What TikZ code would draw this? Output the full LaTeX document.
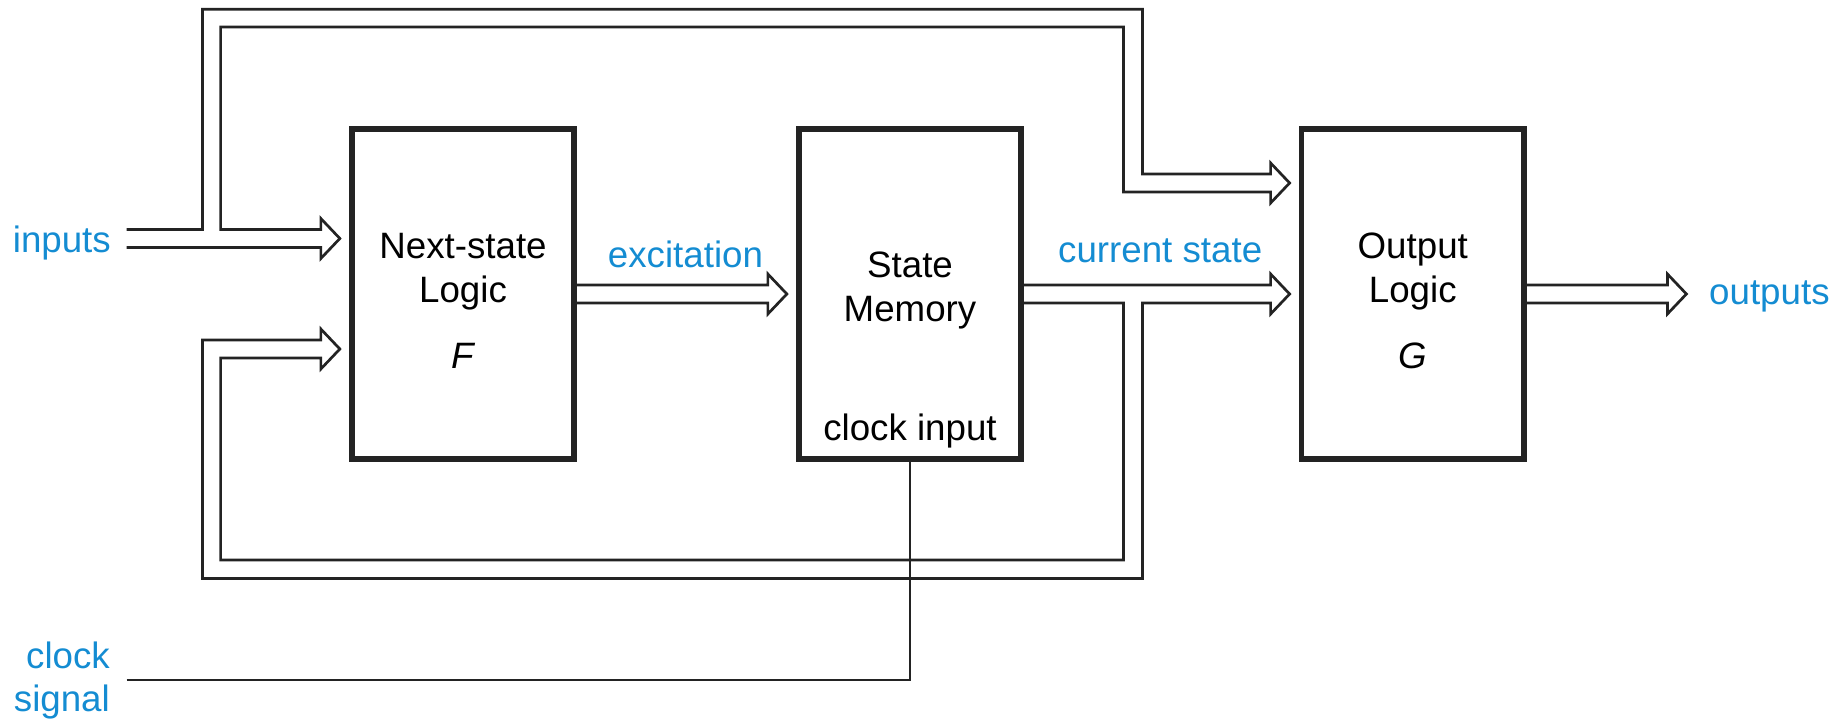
\documentclass[tikz,border=0pt]{standalone}
\usepackage{fontspec}
\setmainfont{Liberation Sans}
\usetikzlibrary{calc}
\definecolor{lblue}{RGB}{20,140,210}
\definecolor{ink}{RGB}{35,35,35}
\begin{document}
\begin{tikzpicture}[x=1pt,y=-1pt,
  blk/.style={draw=ink, line width=5.8pt, minimum width=222.5pt, minimum height=330pt, inner sep=0pt},
  bus/.style={draw=ink, line width=2.7pt, line join=miter},
  wire/.style={draw=ink, line width=2.7pt},
  lbl/.style={text=lblue, font=\fontsize{36.7}{44}\selectfont, inner sep=0pt},
  txt/.style={text=black, font=\fontsize{36.7}{44}\selectfont, inner sep=0pt},
  head/.style={insert path={-- ($(#1)+(-19,-9)$) -- ($(#1)+(-19,-20)$) -- (#1) -- ($(#1)+(-19,20)$) -- ($(#1)+(-19,9)$)}}]
\useasboundingbox (0,0) rectangle (1843,718);

% blocks
\node[blk] (F) at (463,294) {};
\node[blk] (M) at (910,294) {};
\node[blk] (G) at (1412.75,294) {};

% block texts
\node[txt, anchor=base] (F1) at (463,258) {Next-state};
\node[txt, anchor=base] (F2) at (463,302) {Logic};
\node[txt, anchor=base] (F3) at (463,368) {\itshape F};
\node[txt, anchor=base] (M1) at (910,277) {State};
\node[txt, anchor=base] (M2) at (910,321) {Memory};
\node[txt, anchor=base] (M3) at (910,440) {clock input};
\node[txt, anchor=base] (G1) at (1412.75,258) {Output};
\node[txt, anchor=base] (G2) at (1412.75,302) {Logic};
\node[txt, anchor=base] (G3) at (1412.75,368) {\itshape G};

% labels
\node[lbl, anchor=base east] (lin) at (111,252) {inputs};
\node[lbl, anchor=base] (lex) at (685.5,267) {excitation};
\node[lbl, anchor=base west] (lcs) at (1058,262.5) {current state};
\node[lbl, anchor=base west] (lout) at (1709,304) {outputs};
\node[lbl, anchor=base east] (lclk) at (110,668.5) {clock};
\node[lbl, anchor=base east] (lsig) at (110,711.5) {signal};

% arrow tips
\coordinate (tIn) at ($(F.west)+(-9,-55.5)$);
\coordinate (tFb) at ($(F.west)+(-9,55)$);
\coordinate (tEx) at ($(M.west)+(-9,0)$);
\coordinate (tGt) at ($(G.west)+(-9,-111)$);
\coordinate (tGc) at ($(G.west)+(-9,0)$);
\coordinate (tOut) at ($(G.east)+(159.5,0)$);
\coordinate (inU) at (126.5,229.5);
\coordinate (inL) at (126.5,247.5);
\coordinate (clk) at (126.5,680);

% inputs bus with branch to output logic
\draw[bus] (inU) -- (202.4,229.5) -- (202.4,9.3) -- (1142.4,9.3) -- (1142.4,174)
  [head=tGt] -- (1123.4,192) -- (1123.4,27) -- (220.6,27) -- (220.6,229.5)
  [head=tIn] -- (inL);

% current state bus with feedback
\draw[bus] ($(M.east)+(0,-9)$) [head=tGc] -- (1142.4,303) -- (1142.4,578.5) -- (202.4,578.5)
  -- (202.4,340) [head=tFb] -- (220.6,358) -- (220.6,560) -- (1123.4,560) -- (1123.4,303)
  -- ($(M.east)+(0,9)$);

% excitation
\draw[bus] ($(F.east)+(0,-9)$) [head=tEx] -- ($(F.east)+(0,9)$);

% outputs
\draw[bus] ($(G.east)+(0,-9)$) [head=tOut] -- ($(G.east)+(0,9)$);

% clock
\draw[wire] (clk) -| (M.south);
\end{tikzpicture}
\end{document}
